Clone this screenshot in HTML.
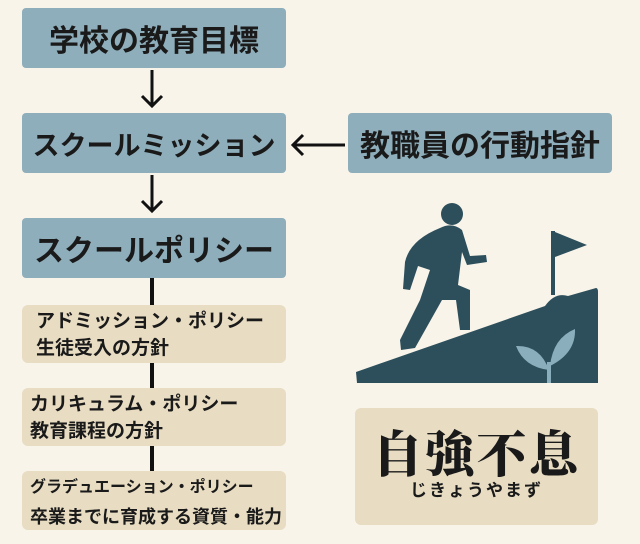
<!DOCTYPE html>
<html><head><meta charset="utf-8"><style>
body{margin:0;width:640px;height:544px;background:#f8f4ea;position:relative;overflow:hidden;font-family:"Liberation Sans","Noto Sans CJK JP",sans-serif;color:#1a1a1a}
.b{position:absolute;background:#8eaebb;border-radius:4px;display:flex;align-items:center;justify-content:center;font-weight:bold;font-size:30px;white-space:nowrap}
.p{position:absolute;left:22px;width:264px;background:#e8dcc2;border-radius:6px;font-weight:bold;font-size:19px;line-height:27px;box-sizing:border-box;white-space:nowrap}
.v{position:absolute;left:150px;width:4px;background:#111}
</style></head><body>
<div class="b" style="left:22px;top:8px;width:264px;height:60px">学校の教育目標</div>
<div class="b" style="left:22px;top:113px;width:264px;height:60px;font-size:27px">スクールミッション</div>
<div class="b" style="left:348px;top:113px;width:264px;height:60px">教職員の行動指針</div>
<div class="b" style="left:22px;top:218px;width:264px;height:60px">スクールポリシー</div>
<svg style="position:absolute;left:0;top:0" width="640" height="544">
<g stroke="#111" stroke-width="3" fill="none">
<line x1="152" y1="70" x2="152" y2="106"/><polyline points="142,96 152,106 162,96"/>
<line x1="152" y1="175" x2="152" y2="211"/><polyline points="142,201 152,211 162,201"/>
<line x1="345" y1="145" x2="293" y2="145"/><polyline points="303,135 293,145 303,155"/>
</g>
<g fill="#2d4f5c">
<path d="M356,372 L545,306 Q555,292 568,296 L596,288 Q598,288 598,292 L598,383 L357,383 Z"/>
<rect x="551" y="231" width="4" height="64"/>
<path d="M555,232 L587,245 L555,257 Z"/>
<circle cx="452" cy="214" r="11"/>
<path d="M440,228 Q452,222 462,230 L470,256 L486,255 L487,262 L467,265 L462,252 L458,285 L470,290 L470,330 L460,330 L456,300 L442,300 L415,348 L401,350 L400,340 L420,300 L430,270 L418,266 L410,290 L403,289 L405,262 Q410,240 440,228 Z"/>
</g>
<g fill="#8aaebb">
<rect x="547" y="362" width="4" height="21"/>
<path d="M549,370 Q540,345 516,346 Q524,367 549,370 Z"/>
<path d="M550,366 Q553,338 575,329 Q576,353 550,366 Z"/>
</g>
</svg>
<div class="v" style="top:278px;height:27px"></div>
<div class="v" style="top:363px;height:25px"></div>
<div class="v" style="top:446px;height:25px"></div>
<div class="p" style="top:305px;height:58px;padding:3px 0 0 14px">アドミッション・ポリシー<br>生徒受入の方針</div>
<div class="p" style="top:388px;height:58px;padding:3px 0 0 8px">カリキュラム・ポリシー<br>教育課程の方針</div>
<div class="p" style="top:471px;height:59px;padding:2px 0 0 8px"><span style="font-size:16px">グラデュエーション・ポリシー</span><br><span style="font-size:18px;line-height:32px">卒業までに育成する資質・能力</span></div>
<div style="position:absolute;left:355px;top:408px;width:243px;height:117px;background:#e8dcc2;border-radius:6px;text-align:center">
<div style="font-family:'Noto Serif CJK SC','Noto Sans CJK JP',serif;font-weight:900;font-size:50px;line-height:56px;margin-top:15px;letter-spacing:2px">自強不息</div>
<div style="font-size:17px;font-weight:bold;line-height:24px;letter-spacing:2px">じきょうやまず</div>
</div>
</body></html>
